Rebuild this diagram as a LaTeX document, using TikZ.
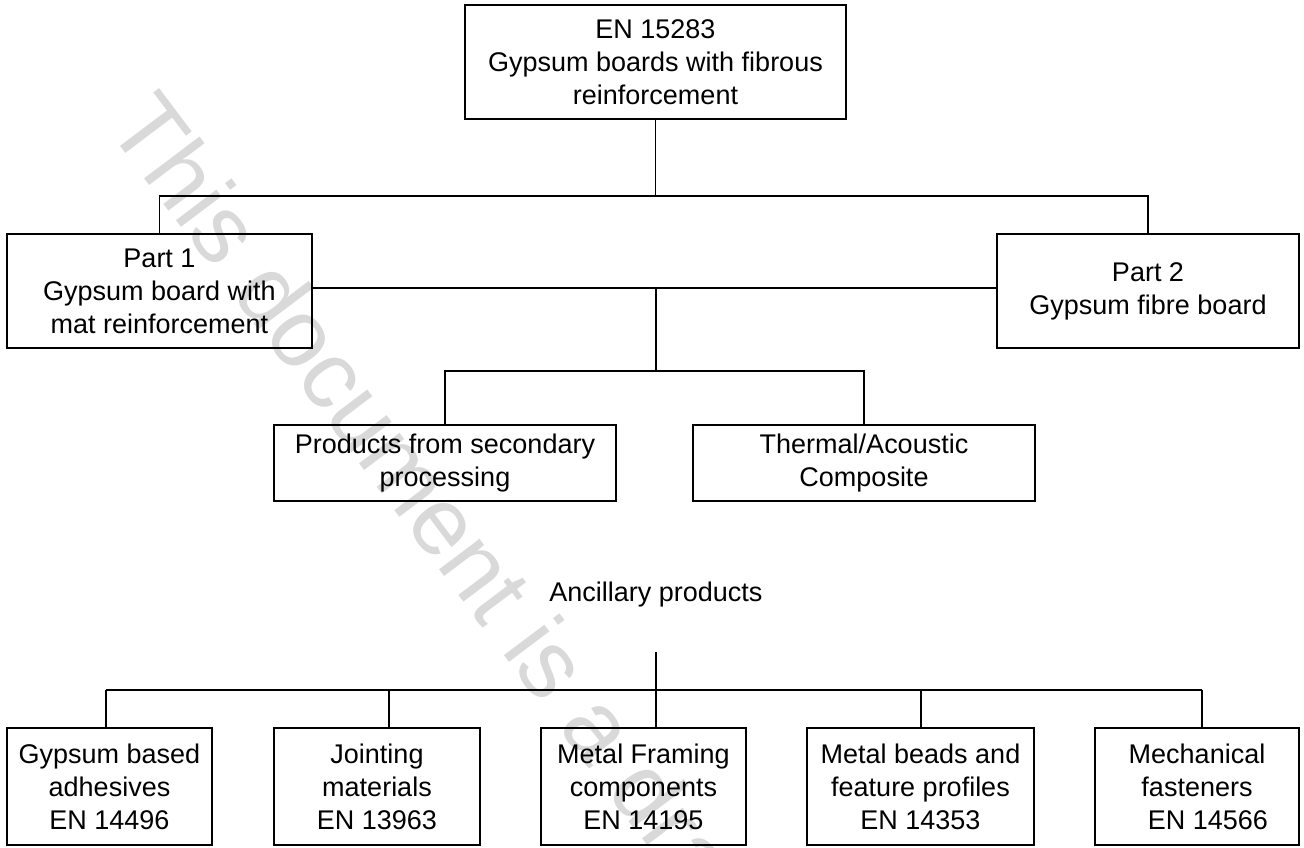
\documentclass[tikz,border=0pt]{standalone}
\usepackage{fontspec}
\setmainfont{Liberation Sans}
\begin{document}
\begin{tikzpicture}[x=1pt,y=-1pt,
  box/.style={draw, line width=1.9pt, align=center, inner sep=0pt, font=\fontsize{27}{33}\selectfont},
  conn/.style={draw, line width=1.9pt},
  lbl/.style={align=center, inner sep=0pt, font=\fontsize{27}{33}\selectfont}]
\useasboundingbox (0,0) rectangle (1304,847);
\begin{scope}
\clip (0,0) rectangle (1304,847);
\node[rotate=-53, anchor=base west, text=black!15, font=\fontsize{96}{96}\selectfont, inner sep=0pt] (wm) at (105,126) {This document is a draft};
\end{scope}
% top level
\node[box, minimum width=381pt, minimum height=114pt] (top) at (655.5,62) {EN 15283\\Gypsum boards with fibrous\\reinforcement};
\node[box, minimum width=305pt, minimum height=114pt] (part1) at (159.5,291) {Part 1\\Gypsum board with\\mat reinforcement};
\node[box, minimum width=302pt, minimum height=114pt] (part2) at (1148,291) {Part 2\\Gypsum fibre board};
\node[box, minimum width=342pt, minimum height=76pt] (prod) at (445,463) {Products from secondary\\processing};
\node[box, minimum width=342pt, minimum height=76pt] (therm) at (864,463) {Thermal/Acoustic\\Composite};
% ancillary
\node[lbl] (anc) at (656,595) {Ancillary products};
\node[box, minimum width=205pt, minimum height=117pt] (b1) at (109.5,786.5) {Gypsum based\\adhesives\\EN 14496};
\node[box, minimum width=206pt, minimum height=117pt] (b2) at (377,786.5) {Jointing\\materials\\EN 13963};
\node[box, minimum width=205pt, minimum height=117pt] (b3) at (643.5,786.5) {Metal Framing\\components\\EN 14195};
\node[box, minimum width=227pt, minimum height=117pt] (b4) at (920.5,786.5) {Metal beads and\\feature profiles\\EN 14353};
\node[box, minimum width=204pt, minimum height=117pt] (b5) at (1197,786.5) {Mechanical\\fasteners\\\hspace*{22pt}EN 14566};
% connectors top
\coordinate (t1) at (656,196);
\draw[conn] (top.south) -- (top.south |- t1);
\draw[conn] (part1.north) |- (t1) -| (part2.north);
\coordinate (m1) at (656,288);
\coordinate (m2) at (656,371);
\draw[conn] (part1.east |- m1) -- (part2.west |- m1);
\draw[conn] (m1) -- (m2);
\draw[conn] (prod.north) |- (m2) -| (therm.north);
% connectors bottom
\coordinate (a0) at (656,652);
\coordinate (j1) at (106,690);
\coordinate (j2) at (389,690);
\coordinate (j3) at (656,690);
\coordinate (j4) at (921,690);
\coordinate (j5) at (1202,690);
\draw[conn] (a0) -- (a0 |- b3.north);
\draw[conn] (j1) -- (j5);
\draw[conn] (j1) -- (j1 |- b1.north);
\draw[conn] (j2) -- (j2 |- b2.north);
\draw[conn] (j4) -- (j4 |- b4.north);
\draw[conn] (j5) -- (j5 |- b5.north);
\end{tikzpicture}
\end{document}
